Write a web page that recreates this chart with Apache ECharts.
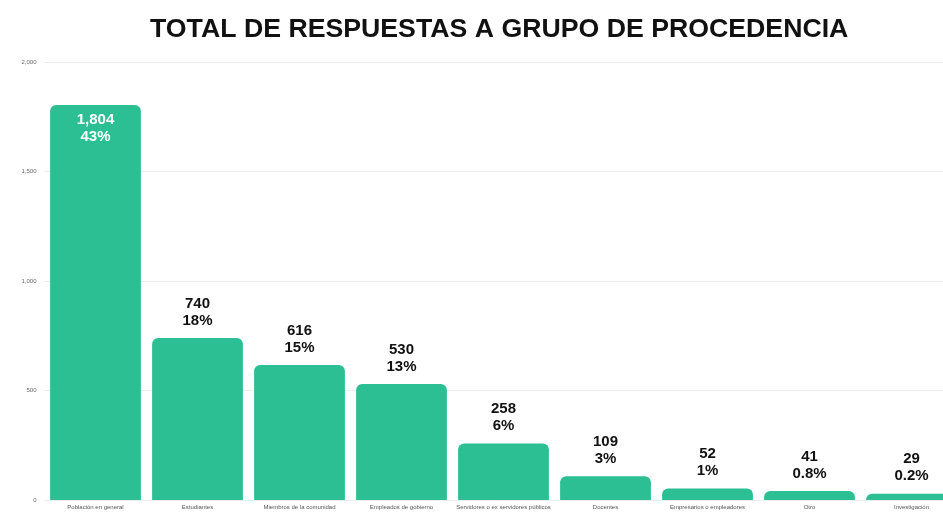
<!DOCTYPE html>
<html>
<head>
<meta charset="utf-8">
<script src="https://cdn.jsdelivr.net/npm/echarts@6/dist/echarts.min.js"></script>
<style>
  html, body { margin: 0; padding: 0; background: #fff; }
  #chart { width: 943px; height: 514px; }
</style>
</head>
<body>
<div id="chart"></div>
<script>
// datos
const categorias = [
  'Población en general', 'Estudiantes', 'Miembros de la comunidad', 'Empleados de gobierno',
  'Servidores o ex servidores públicos', 'Docentes', 'Empresarios o empleadores', 'Otro', 'Investigación'
];
const respuestas = [1804, 740, 616, 530, 258, 109, 52, 41, 29];
const porcentajes = ['43%', '18%', '15%', '13%', '6%', '3%', '1%', '0.8%', '0.2%'];
const ticksY = [0, 500, 1000, 1500, 2000];

const chart = echarts.init(document.getElementById('chart'));

const option = {
  title: {
    text: 'TOTAL DE RESPUESTAS A GRUPO DE PROCEDENCIA',
    left: 145,
    top: 11,
    textStyle: {
      fontFamily: 'Liberation Sans',
      fontWeight: 'bold',
      fontSize: 26.7,
      color: '#111'
    }
  },
  // el gráfico original está cortado por la derecha
  grid: {
    left: 44.5,
    width: 918,
    top: 62,
    bottom: 14,
    outerBoundsMode: 'none'
  },
  xAxis: {
    type: 'category',
    data: categorias,
    axisLine: { show: false },
    axisTick: { show: false },
    axisLabel: {
      interval: 0,
      fontSize: 6,
      color: '#555',
      margin: 4,
      fontFamily: 'Liberation Sans'
    }
  },
  yAxis: {
    type: 'value',
    min: ticksY[0],
    max: ticksY[ticksY.length - 1],
    interval: 500,
    axisLine: { show: false },
    axisTick: { show: false },
    splitLine: { lineStyle: { color: '#ededed' } },
    axisLabel: {
      fontSize: 6,
      color: '#666',
      margin: 8,
      fontFamily: 'Liberation Sans',
      formatter: v => v.toLocaleString('en-US')
    }
  },
  series: [{
    type: 'bar',
    barCategoryGap: '11%',
    data: respuestas.map((v, i) => ({
      value: v,
      label: i === 0 ? {
        position: 'insideTop',
        color: '#fff',
        distance: 6
      } : {}
    })),
    itemStyle: {
      color: '#2bbf93',
      borderRadius: [6, 6, 0, 0]
    },
    label: {
      show: true,
      position: 'top',
      distance: 9,
      color: '#111',
      fontSize: 15,
      fontWeight: 'bold',
      lineHeight: 17,
      fontFamily: 'Liberation Sans',
      formatter: p => p.value.toLocaleString('en-US') + '\n' + porcentajes[p.dataIndex]
    }
  }]
};

chart.setOption(option);
</script>
</body>
</html>
